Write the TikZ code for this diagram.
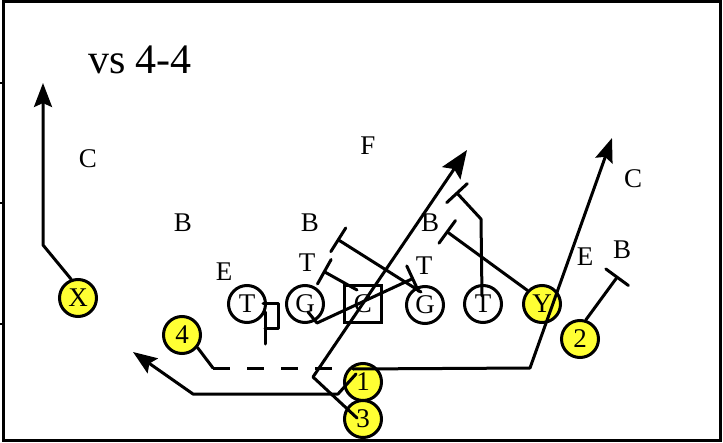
\documentclass[tikz,border=0pt]{standalone}
\usepackage{fontspec}
\setmainfont{Liberation Serif}
\usetikzlibrary{arrows.meta,calc}
\definecolor{plyellow}{RGB}{255,255,51}
\begin{document}
\begin{tikzpicture}[x=1pt,y=-1pt,
  player/.style={circle,draw,line width=3pt,minimum size=37pt,inner sep=0pt,font=\fontsize{27}{27}\selectfont},
  off/.style={player,fill=plyellow},
  lineman/.style={player,fill=white},
  centerbox/.style={rectangle,draw,fill=white,line width=3pt,minimum size=37pt,inner sep=0pt,font=\fontsize{27}{27}\selectfont},
  deflabel/.style={inner sep=0pt,font=\fontsize{27}{27}\selectfont},
  plain/.style={line width=3pt,line join=round,line cap=round},
  route/.style={plain,-{Stealth[length=24pt,width=18pt,inset=4pt]}},
  bigroute/.style={plain,-{Stealth[length=28pt,width=22pt,inset=5pt]}},
  blockline/.style={plain,-{Bar[width=28pt,round]}},
  dashline/.style={line width=3pt,line cap=butt,dash pattern=on 17pt off 17pt}
]
\useasboundingbox (0,0) rectangle (723,442);
% frame
\draw[line width=3pt] (3.5,1.5) rectangle (720.8,440.5);
\draw[line width=2pt] (0,83) -- (3.5,83);
\draw[line width=2pt] (0,203) -- (3.5,203);
\draw[line width=2pt] (0,324) -- (3.5,324);
% title
\node[inner sep=0pt,font=\fontsize{42}{42}\selectfont] (title) at (140,60) {vs 4-4};
% defense
\node[deflabel] (dC1) at (88,159) {C};
\node[deflabel] (dB1) at (183,223) {B};
\node[deflabel] (dB2) at (310,223) {B};
\node[deflabel] (dF) at (368,146) {F};
\node[deflabel] (dB3) at (430,223) {B};
\node[deflabel] (dC2) at (633,179) {C};
\node[deflabel] (dE2) at (585,257) {E};
\node[deflabel] (dB4) at (622,250) {B};
\node[deflabel] (dE1) at (224,272) {E};
\node[deflabel] (dT1) at (307,263) {T};
\node[deflabel] (dT2) at (424,266) {T};
% offense
\node[off] (X) at (78,298) {X};
\node[off] (n4) at (182,335) {4};
\node[lineman] (tl) at (247,304) {T};
\node[lineman] (gl) at (305,304) {G};
\node[centerbox] (c) at (363,304) {C};
\node[lineman] (gr) at (425,305) {G};
\node[lineman] (tr) at (483,304) {T};
\node[off] (Y) at (542,304) {Y};
\node[off] (n2) at (580,339) {2};
\node[off] (n1) at (363,382) {1};
\node[off] (n3) at (363,419) {3};
% routes
\draw[route] (X.110) -- (43,245) -- (43,83);
\draw[plain] (n4.-39) -- (213,368);
\draw[dashline] (213,368) -- (333,368);
\coordinate (q1) at ($(n1)+(-10,-13)$);
\draw[route] (q1) -- (530,368) -- (612,138);
\draw[route] ($(n1)+(-7,-8)$) -- (338,394) -- (193,394) -- (133,352);
\draw[bigroute] ($(n3)+(-6,-1)$) -- (313,377) -- (467,150);
% blocks
\draw[plain] ($(tl)+(16,-1)$) -- (278,303) -- (278,328) -- (265,328);
\draw[plain] ($(tl)+(18,8)$) -- ($(tl)+(18,40)$);
\draw[blockline] ($(gl)+(3,8)$) -- (317,323) -- (414,278);
\draw[blockline] ($(c)+(-6,-14)$) -- (323,271);
\draw[blockline] ($(gr)+(-4,-13)$) -- (337,239);
\draw[blockline] ($(tr)+(-1,-8)$) -- (481,219) -- (456,192);
\draw[blockline] (Y.137) -- (446,231);
\draw[blockline] (n2.73) -- (618,276);
\end{tikzpicture}
\end{document}
